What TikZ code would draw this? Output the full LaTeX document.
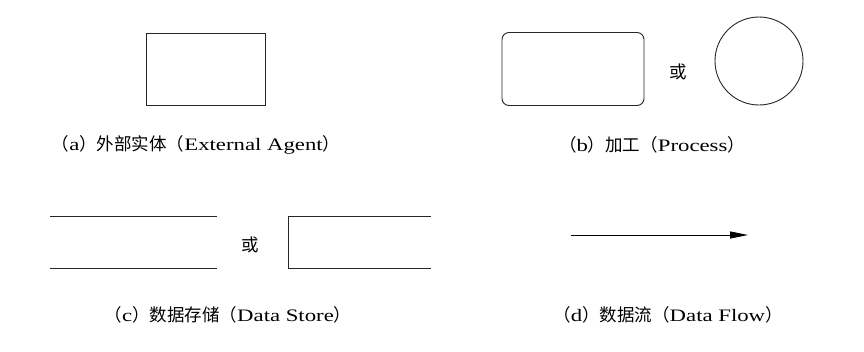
\documentclass[tikz,border=0pt]{standalone}
\usepackage{fontspec}
\setmainfont{Liberation Serif}[FakeStretch=1.3]
\newfontfamily\cjk{Noto Sans CJK SC}
\usetikzlibrary{arrows.meta, positioning}
\newcommand{\zh}[1]{{\cjk #1}}

\begin{document}
\begin{tikzpicture}[x=1pt, y=-1pt,
  shp/.style={draw=black!85, line width=0.9pt, inner sep=0pt},
  ext/.style={shp, rectangle, minimum width=119pt, minimum height=72pt},
  proc/.style={shp, rectangle, rounded corners=7pt, minimum width=142pt, minimum height=73pt},
  capt/.style={font=\fontsize{17.5}{21}\selectfont, inner sep=0pt},
  orlbl/.style={font=\cjk\fontsize{17.5}{21}\selectfont, inner sep=0pt},
  arr/.style={-{Triangle[length=18pt, width=7pt]}, line width=0.9pt}]
  \useasboundingbox (0,0) rectangle (864,351);
  % (a) external agent
  \node[ext] (agent) at (205.5,69) {};
  \node[capt] (capa) at (196,145) {\zh{（}a\zh{）外部实体（}External Agent\zh{）}};
  % (b) process
  \node[proc] (prc) at (573,69) {};
  \node[orlbl] (orb) at (678,72) {或};
  \node[shp, circle, minimum size=88pt] (prcc) at (759,61) {};
  \node[capt] (capb) at (652,145) {\zh{（}b\zh{）加工（}Process\zh{）}};
  % (c) data store
  \draw[shp] (50,216) -- (217,216);
  \draw[shp] (50,268) -- (217,268);
  \node[orlbl] (orc) at (250,245) {或};
  \draw[shp] (431,216) -- (288,216) -- (288,268) -- (431,268);
  \node[capt] (capc) at (228,315) {\zh{（}c\zh{）数据存储（}Data Store\zh{）}};
  % (d) data flow
  \coordinate (flowa) at (571,235);
  \coordinate (flowb) at (748,235);
  \draw[arr] (flowa) -- (flowb);
  \node[capt] (capd) at (668,315) {\zh{（}d\zh{）数据流（}Data Flow\zh{）}};
\end{tikzpicture}
\end{document}
